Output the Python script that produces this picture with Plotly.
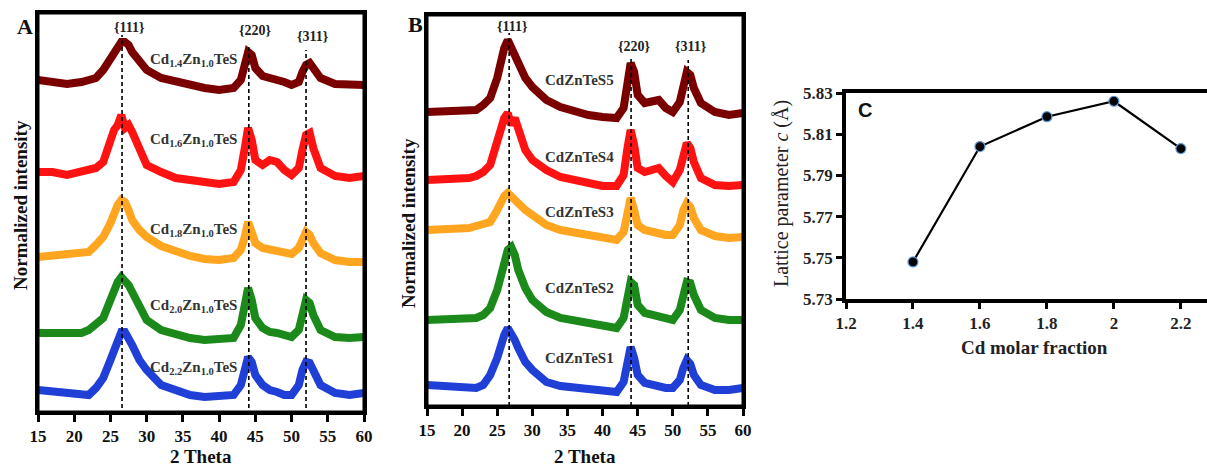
import plotly.graph_objects as go

W, H = 1207, 466

# ---------------- DATA ----------------
two_theta = [15, 17, 19, 21, 22, 23, 24, 25, 25.5, 26, 26.5, 27, 27.5, 28, 29, 30, 32, 34, 36, 38, 40, 42,
             43, 43.5, 44, 44.5, 45, 46, 47, 48, 49, 50, 51, 51.5, 52, 52.5, 53, 54, 56, 58, 60]

# Panel A: stacked normalized intensity (with offsets)
a_cd14 = [335, 333, 331, 333, 335, 337, 345, 357, 363, 369, 373, 373, 370, 363, 353, 345, 337, 333, 329, 327, 325, 327,
          335, 350, 363, 360, 347, 339, 337, 337, 333, 330, 333, 343, 350, 352, 347, 337, 331, 330, 330]
a_cd16 = [243, 243, 240, 243, 245, 247, 253, 275, 285, 290, 300, 287, 290, 283, 265, 250, 243, 237, 235, 232, 231, 233,
          245, 265, 287, 275, 255, 250, 255, 253, 245, 240, 247, 265, 280, 282, 267, 247, 239, 237, 239]
a_cd18 = [158, 159, 160, 162, 163, 170, 178, 192, 203, 210, 215, 213, 205, 195, 185, 178, 169, 163, 159, 156, 155, 157,
          165, 177, 193, 183, 172, 167, 165, 163, 161, 161, 167, 177, 183, 180, 172, 162, 155, 153, 153]
a_cd20 = [82, 82, 81, 82, 85, 90, 97, 115, 125, 133, 138, 135, 130, 123, 107, 95, 85, 80, 77, 75, 75, 77,
          90, 110, 127, 115, 97, 87, 83, 82, 79, 78, 85, 103, 115, 112, 100, 85, 78, 77, 78]
a_cd22 = [25, 23, 22, 20, 20, 27, 37, 55, 65, 75, 83, 83, 77, 70, 55, 45, 30, 25, 20, 18, 18, 20,
          30, 45, 58, 53, 40, 30, 25, 23, 20, 20, 30, 45, 53, 52, 43, 30, 22, 20, 22]

# Panel B
b_s5 = [294, 294, 296, 296, 296, 301, 308, 328, 344, 358, 366, 358, 351, 344, 328, 319, 306, 299, 294, 291, 289, 288,
        298, 321, 343, 334, 311, 303, 304, 306, 298, 294, 304, 321, 334, 331, 318, 303, 294, 291, 293]
b_s4 = [226, 226, 226, 228, 230, 234, 241, 266, 281, 288, 293, 281, 288, 278, 256, 246, 236, 229, 226, 223, 220, 220,
        231, 256, 276, 261, 238, 234, 236, 238, 230, 224, 236, 254, 263, 258, 244, 228, 221, 220, 221]
b_s3 = [176, 176, 178, 178, 180, 181, 184, 196, 204, 210, 213, 209, 208, 204, 196, 191, 181, 176, 173, 171, 168, 166,
        174, 196, 208, 196, 181, 176, 174, 173, 171, 171, 181, 196, 203, 199, 188, 176, 170, 168, 169]
b_s2 = [86, 86, 86, 86, 88, 91, 98, 116, 131, 144, 156, 159, 151, 136, 118, 106, 94, 88, 86, 84, 81, 78,
        88, 106, 124, 121, 101, 93, 91, 89, 86, 86, 96, 113, 124, 123, 111, 96, 88, 86, 86]
b_s1 = [21, 20, 20, 18, 18, 21, 31, 48, 61, 71, 78, 73, 66, 58, 44, 36, 24, 20, 18, 16, 15, 14,
        24, 44, 59, 48, 31, 23, 21, 20, 18, 18, 26, 38, 46, 42, 31, 21, 16, 16, 18]

a_names = ["Cd<sub>1.4</sub>Zn<sub>1.0</sub>TeS", "Cd<sub>1.6</sub>Zn<sub>1.0</sub>TeS",
           "Cd<sub>1.8</sub>Zn<sub>1.0</sub>TeS", "Cd<sub>2.0</sub>Zn<sub>1.0</sub>TeS",
           "Cd<sub>2.2</sub>Zn<sub>1.0</sub>TeS"]
a_label_y = [355, 275, 185, 109, 47]
b_names = ["CdZnTeS5", "CdZnTeS4", "CdZnTeS3", "CdZnTeS2", "CdZnTeS1"]
b_label_y = [326, 249, 194, 118, 48]

peak_names = ["{111}", "{220}", "{311}"]
peaks_a = [26.6, 44.1, 52.0]
peak_top_a = [380, 370, 365]
peak_label_y_a = [388, 385, 379]
peaks_b = [26.7, 44.06, 52.2]
peak_top_b = [373, 349, 346]
peak_label_y_b = [379, 359, 359]

x_ticks = [15, 20, 25, 30, 35, 40, 45, 50, 55, 60]

cd_fraction = [1.4, 1.6, 1.8, 2.0, 2.2]
lattice_c = [5.748, 5.804, 5.8185, 5.826, 5.803]
c_xticks = [1.2, 1.4, 1.6, 1.8, 2.0, 2.2]
c_xticktext = ["1.2", "1.4", "1.6", "1.8", "2", "2.2"]
c_yticks = [5.73, 5.75, 5.77, 5.79, 5.81, 5.83]

colors = ["#7a0000", "#ff1212", "#ffa51f", "#1b8a1b", "#1f3fd6"]

# ---------------- FIGURE ----------------
def px_x(p):
    return p / W

def px_y(p):
    return 1 - p / H

fig = go.Figure()
SERIF = "Liberation Serif"

a_series = [a_cd14, a_cd16, a_cd18, a_cd20, a_cd22]
b_series = [b_s5, b_s4, b_s3, b_s2, b_s1]

for ser, col in zip(a_series, colors):
    fig.add_trace(go.Scatter(x=two_theta, y=ser, mode="lines", line=dict(color=col, width=8),
                             xaxis="x", yaxis="y", showlegend=False, hoverinfo="skip"))
for ser, col in zip(b_series, colors):
    fig.add_trace(go.Scatter(x=two_theta, y=ser, mode="lines", line=dict(color=col, width=8),
                             xaxis="x2", yaxis="y2", showlegend=False, hoverinfo="skip"))

for p, t in zip(peaks_a, peak_top_a):
    fig.add_trace(go.Scatter(x=[p, p], y=[0, t], mode="lines", line=dict(color="black", width=1.6, dash="4px,3px"),
                             xaxis="x", yaxis="y", showlegend=False, hoverinfo="skip"))
for p, t in zip(peaks_b, peak_top_b):
    fig.add_trace(go.Scatter(x=[p, p], y=[0, t], mode="lines", line=dict(color="black", width=1.6, dash="4px,3px"),
                             xaxis="x2", yaxis="y2", showlegend=False, hoverinfo="skip"))

fig.add_trace(go.Scatter(x=cd_fraction, y=lattice_c, mode="lines+markers",
                         line=dict(color="black", width=2.2),
                         marker=dict(color="black", size=10, line=dict(color="#5b9bd5", width=1.2)),
                         xaxis="x3", yaxis="y3", showlegend=False, hoverinfo="skip"))

tickfont = dict(family=SERIF, size=17, color="#111", weight="bold")

common_x = dict(range=[15, 60], tickvals=x_ticks, ticks="outside", ticklen=7, tickwidth=3,
                tickcolor="black", showline=True, linewidth=3, linecolor="black", mirror=True,
                showgrid=False, zeroline=False, tickfont=tickfont, automargin=False)
common_y = dict(showticklabels=False, ticks="", showline=True, linewidth=3, linecolor="black", mirror=True,
                showgrid=False, zeroline=False, automargin=False)

fig.update_layout(
    width=W, height=H, margin=dict(l=0, r=0, t=0, b=0, autoexpand=False),
    paper_bgcolor="white", plot_bgcolor="rgba(0,0,0,0)",
    xaxis=dict(domain=[px_x(38), px_x(364)], anchor="y", **common_x),
    yaxis=dict(domain=[px_y(412), px_y(13)], range=[3, 402], anchor="x", **common_y),
    xaxis2=dict(domain=[px_x(427), px_x(743)], anchor="y2", **common_x),
    yaxis2=dict(domain=[px_y(406), px_y(15)], range=[0, 391], anchor="x2", **common_y),
    xaxis3=dict(domain=[px_x(846), 1.0], range=[1.2, 2.278], anchor="y3", tickvals=c_xticks,
                ticktext=c_xticktext, ticks="outside", ticklen=6, tickwidth=3, tickcolor="black",
                showline=True, linewidth=3.5, linecolor="black", mirror=True, showgrid=False,
                zeroline=False, automargin=False,
                tickfont=dict(family=SERIF, size=17, color="#222", weight="bold")),
    yaxis3=dict(domain=[px_y(299), px_y(93)], range=[5.73, 5.83], anchor="x3", tickvals=c_yticks,
                tickformat=".2f", ticks="outside", ticklen=6, tickwidth=3, tickcolor="black",
                showline=True, linewidth=3.5, linecolor="black", mirror=False, showgrid=False,
                zeroline=False, automargin=False,
                tickfont=dict(family=SERIF, size=17, color="#222", weight="bold")),
)

# frames for panels A and B
for xr, yr in (("x domain", "y domain"), ("x2 domain", "y2 domain")):
    fig.add_shape(type="rect", xref=xr, yref=yr, x0=0, x1=1, y0=0, y1=1,
                  line=dict(color="black", width=3), layer="above")


def note(x, y, text, font, xref="paper", yref="paper", angle=0, xshift=0):
    return dict(x=x, y=y, xref=xref, yref=yref, text=text, showarrow=False, font=font,
                xanchor="center", yanchor="middle", textangle=angle, xshift=xshift)


ann = []
lab_font = dict(family=SERIF, size=15, color="#333", weight="bold")
for name, y in zip(a_names, a_label_y):
    ann.append(note(36.5, y, name, lab_font, "x", "y"))
for name, y in zip(b_names, b_label_y):
    ann.append(note(36.7, y, name, lab_font, "x2", "y2"))

pk_font = dict(family=SERIF, size=14, color="#222", weight="bold")
for name, p, y in zip(peak_names, peaks_a, peak_label_y_a):
    ann.append(note(p, y, name, pk_font, "x", "y", xshift=7))
for name, p, y in zip(peak_names, peaks_b, peak_label_y_b):
    ann.append(note(p, y, name, pk_font, "x2", "y2", xshift=3))

title_font = dict(family=SERIF, size=19, color="#111", weight="bold")
ann.append(note(px_x(201), px_y(456), "2 Theta", title_font))
ann.append(note(px_x(585), px_y(456), "2 Theta", title_font))
ann.append(note(px_x(20), px_y(205), "Normalized intensity", title_font, angle=-90))
ann.append(note(px_x(408), px_y(223), "Normalized intensity", title_font, angle=-90))
ann.append(note(px_x(1034), px_y(347), "Cd molar fraction",
                dict(family=SERIF, size=19, color="#222", weight="bold")))
ann.append(note(px_x(781), px_y(194), "Lattice parameter <i>c</i> (Å)",
                dict(family=SERIF, size=20, color="#222"), angle=-90))

ann.append(note(px_x(25), px_y(27), "A", dict(family=SERIF, size=22, color="#111", weight="bold")))
ann.append(note(px_x(415), px_y(25), "B", dict(family=SERIF, size=22, color="#111", weight="bold")))
ann.append(note(px_x(865), px_y(110), "C", dict(family="Liberation Sans", size=20, color="#111", weight="bold")))

fig.update_layout(annotations=ann)
fig.write_html("out.html", config={"displayModeBar": False},
               post_script="document.body.style.margin='0px';document.body.style.overflow='hidden';")
